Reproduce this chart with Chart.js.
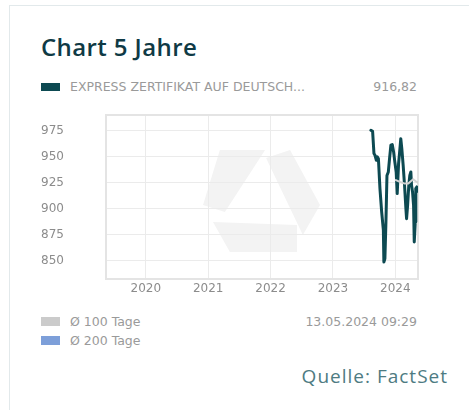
<!DOCTYPE html>
<html lang="de">
<head>
<meta charset="utf-8">
<title>Chart 5 Jahre</title>
<script src="https://cdn.jsdelivr.net/npm/chart.js@4/dist/chart.umd.min.js"></script>
<style>
    html, body { margin: 0; padding: 0; background: #fff; }
    body { width: 469px; height: 410px; position: relative; overflow: hidden; font-family: 'DejaVu Sans', sans-serif; }
    .karte { position: absolute; left: 9px; top: 5px; right: 0; bottom: 0; border-left: 1px solid #e2e9eb; border-top: 1px solid #e2e9eb; }
    .titel { position: absolute; left: 41px; top: 35px; font-family: 'Open Sans', sans-serif; font-weight: 600; font-size: 24px; line-height: 24px; color: #0f3a45; letter-spacing: 0.4px; }
    .feld { position: absolute; height: 9px; width: 19px; }
    .text { position: absolute; font-size: 12.5px; line-height: 14px; color: #9a9a9a; white-space: nowrap; }
    .quelle { position: absolute; right: 21px; top: 364px; font-family: 'Open Sans', sans-serif; font-size: 19px; line-height: 24px; color: #4e7b82; letter-spacing: 1px; }
    #diagramm { position: absolute; left: 41px; top: 110px; }
</style>
</head>
<body>
<div class="karte"></div>
<div class="titel">Chart 5 Jahre</div>

<div class="feld" style="left:41px; top:83px; height:8px; background:#0d4a52;"></div>
<div class="text" id="nameWert" style="left:70px; top:80px;"></div>
<div class="text" id="letzterKurs" style="right:52px; top:80px;"></div>

<canvas id="diagramm" width="381" height="195"></canvas>

<div class="feld" style="left:41px; top:317px; background:#cbcbcb;"></div>
<div class="text" style="left:70px; top:315px;">Ø 100 Tage</div>
<div class="feld" style="left:41px; top:336px; background:#7d9fd9;"></div>
<div class="text" style="left:70px; top:334px;">Ø 200 Tage</div>
<div class="text" id="stand" style="right:52px; top:315px;"></div>

<div class="quelle">Quelle: FactSet</div>

<script>
// Kursverlauf des Zertifikats
const kursDatum = [
    '2023-08-11', '2023-08-21', '2023-08-29', '2023-09-04', '2023-09-12', '2023-09-18',
    '2023-09-24', '2023-10-03', '2023-10-13', '2023-10-23', '2023-10-26', '2023-11-01',
    '2023-11-07', '2023-11-13', '2023-11-21', '2023-11-28', '2023-12-06', '2023-12-14',
    '2023-12-22', '2023-12-29', '2024-01-06', '2024-01-12', '2024-01-20', '2024-01-28',
    '2024-02-02', '2024-02-08', '2024-02-16', '2024-02-24', '2024-03-03', '2024-03-07',
    '2024-03-13', '2024-03-20', '2024-03-26', '2024-04-01', '2024-04-05', '2024-04-11',
    '2024-04-17', '2024-04-21', '2024-04-27', '2024-04-30', '2024-05-06', '2024-05-13'
];
const kursWerte = [
    975.4, 974.4, 953.0, 951.4, 946.6, 949.8,
    948.0, 919.4, 897.0, 879.5, 849.0, 852.3,
    887.4, 932.0, 935.4, 948.0, 961.0, 961.6,
    954.6, 945.0, 935.4, 914.6, 943.4, 957.7,
    967.3, 957.7, 941.8, 922.6, 900.2, 890.6,
    903.4, 922.6, 932.0, 935.4, 922.6, 916.2,
    903.4, 868.3, 887.5, 919.4, 921.0, 916.82
];

// gleitender Durchschnitt 100 Tage
const mittel100Datum = ['2024-01-04', '2024-01-28', '2024-02-26', '2024-03-17', '2024-04-01', '2024-04-15', '2024-05-05', '2024-05-13'];
const mittel100Werte = [927.6, 925.8, 924.2, 924.2, 926.5, 928.4, 925.8, 925.0];

// gleitender Durchschnitt 200 Tage (noch keine Werte)
const mittel200Datum = [];
const mittel200Werte = [];

// Achsen
const jahreTicks = [2020, 2021, 2022, 2023, 2024];
const wertTicks = [850, 875, 900, 925, 950, 975];
const zeitraumVon = '2019-05-13';
const zeitraumBis = '2024-05-13';
const wertMin = 832.7;
const wertMax = 990;

const produktName = 'EXPRESS ZERTIFIKAT AUF DEUTSCH...';
const letzterKurs = '916,82';
const standText = '13.05.2024 09:29';

document.getElementById('nameWert').textContent = produktName;
document.getElementById('letzterKurs').textContent = letzterKurs;
document.getElementById('stand').textContent = standText;

// Datum 'JJJJ-MM-TT' in Dezimaljahr umrechnen (für die lineare x-Achse)
function dezimalJahr(text) {
    const [j, m, t] = text.split('-').map(Number);
    const anfang = Date.UTC(j, 0, 1);
    const ende = Date.UTC(j + 1, 0, 1);
    return j + (Date.UTC(j, m - 1, t) - anfang) / (ende - anfang);
}

function punkte(daten, werte) {
    return daten.map((d, i) => ({ x: dezimalJahr(d), y: werte[i] }));
}

// blasses Logo im Hintergrund, relativ zur Zeichenfläche
const logoFlaechen = [
    [[0.365, 0.213], [0.510, 0.213], [0.381, 0.591], [0.311, 0.549]],
    [[0.513, 0.262], [0.590, 0.213], [0.686, 0.549], [0.631, 0.732]],
    [[0.343, 0.652], [0.612, 0.671], [0.612, 0.835], [0.397, 0.835]]
];

const hintergrundLogo = {
    id: 'hintergrundLogo',
    beforeDraw(chart) {
        const { ctx, chartArea: a } = chart;
        ctx.save();
        ctx.fillStyle = '#f3f3f3';
        logoFlaechen.forEach(flaeche => {
            ctx.beginPath();
            flaeche.forEach(([fx, fy], i) => {
                const x = a.left + fx * (a.right - a.left);
                const y = a.top + fy * (a.bottom - a.top);
                if (i === 0) ctx.moveTo(x, y); else ctx.lineTo(x, y);
            });
            ctx.closePath();
            ctx.fill();
        });
        ctx.restore();
    }
};

// Rahmen um die Zeichenfläche
const rahmen = {
    id: 'rahmen',
    beforeDatasetsDraw(chart) {
        const { ctx, chartArea: a } = chart;
        ctx.save();
        ctx.strokeStyle = '#e4e4e4';
        ctx.lineWidth = 2;
        ctx.strokeRect(a.left, a.top, a.right - a.left, a.bottom - a.top);
        ctx.restore();
    }
};

Chart.defaults.font.family = "'DejaVu Sans', sans-serif";
Chart.defaults.font.size = 12;
Chart.defaults.color = '#8c8c8c';

new Chart(document.getElementById('diagramm').getContext('2d'), {
    type: 'line',
    data: {
        datasets: [
            {
                label: 'Ø 100 Tage',
                data: punkte(mittel100Datum, mittel100Werte),
                borderColor: '#d2d2d2',
                borderWidth: 2,
                order: 0
            },
            {
                label: produktName,
                data: punkte(kursDatum, kursWerte),
                borderColor: '#0d4a52',
                borderWidth: 3,
                order: 1
            },
            {
                label: 'Ø 200 Tage',
                data: punkte(mittel200Datum, mittel200Werte),
                borderColor: '#7d9fd9',
                borderWidth: 2,
                order: 2
            }
        ]
    },
    options: {
        responsive: false,
        animation: false,
        devicePixelRatio: 1,
        layout: { padding: { top: 5, right: 4, left: 0, bottom: 0 } },
        elements: {
            point: { radius: 0 },
            line: { tension: 0, borderJoinStyle: 'round', borderCapStyle: 'round' }
        },
        plugins: {
            legend: { display: false },
            tooltip: { enabled: false }
        },
        scales: {
            x: {
                type: 'linear',
                min: dezimalJahr(zeitraumVon),
                max: dezimalJahr(zeitraumBis),
                afterBuildTicks: achse => { achse.ticks = jahreTicks.map(v => ({ value: v })); },
                afterFit: achse => { achse.height = 26; achse.paddingLeft = 0; achse.paddingRight = 0; },
                ticks: { padding: 3, callback: v => String(v) },
                grid: { color: '#ebebeb', drawTicks: false },
                border: { display: false }
            },
            y: {
                min: wertMin,
                max: wertMax,
                afterBuildTicks: achse => { achse.ticks = wertTicks.map(v => ({ value: v })); },
                afterFit: achse => { achse.width = 65; achse.paddingTop = 0; achse.paddingBottom = 0; },
                ticks: { padding: 3, crossAlign: 'far', callback: v => String(v) },
                grid: { color: '#ebebeb', drawTicks: false },
                border: { display: false }
            }
        }
    },
    plugins: [hintergrundLogo, rahmen]
});
</script>
</body>
</html>
